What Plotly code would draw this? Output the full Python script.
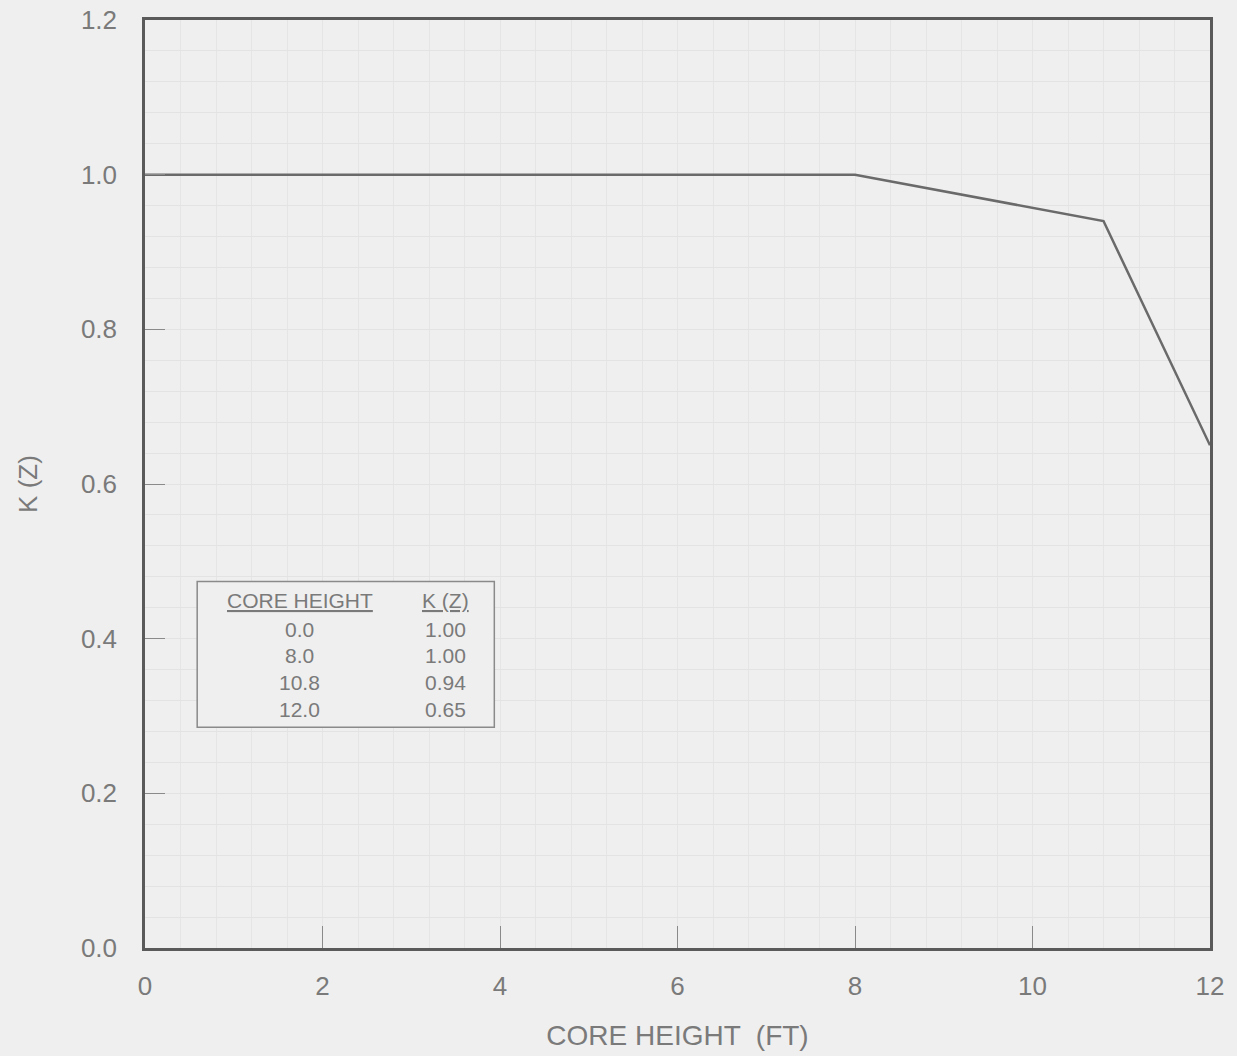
import plotly.graph_objects as go

core_height = [0.0, 8.0, 10.8, 12.0]
k_z = [1.00, 1.00, 0.94, 0.65]
x_ticks = [0, 2, 4, 6, 8, 10, 12]
y_ticks = [0.0, 0.2, 0.4, 0.6, 0.8, 1.0, 1.2]

FONT = "Liberation Sans, Arial, sans-serif"
TXT = "#7a7a7a"
AX = "#5a5a5a"

fig = go.Figure()
fig.add_trace(go.Scatter(x=core_height, y=k_z, mode="lines",
                         line=dict(color="#6a6a6a", width=2.5),
                         showlegend=False, hoverinfo="skip"))

fig.update_layout(
    width=1237, height=1056,
    margin=dict(l=145, r=27, t=20, b=108),
    paper_bgcolor="#efefef", plot_bgcolor="#efefef",
    font=dict(family=FONT, color=TXT, size=20),
)
fig.update_xaxes(range=[0, 12], tickvals=x_ticks, ticktext=[str(v) for v in x_ticks],
                 ticks="inside", ticklen=22, tickwidth=1.2, tickcolor="#8a8a8a",
                 showline=True, linecolor=AX, linewidth=2.5, mirror=True, automargin=False,
                 showgrid=False, zeroline=False, ticklabelstandoff=13,
                 minor=dict(dtick=0.4, showgrid=True, gridcolor="#e5e5e5", gridwidth=1),
                 title=dict(text="CORE HEIGHT  (FT)", font=dict(size=28, color=TXT), standoff=26),
                 tickfont=dict(size=26, color=TXT))
fig.update_yaxes(range=[0, 1.2], tickvals=y_ticks, ticktext=[f"{v:.1f}" for v in y_ticks],
                 ticks="inside", ticklen=20, tickwidth=1.2, tickcolor="#8a8a8a",
                 showline=True, linecolor=AX, linewidth=2.5, mirror=True, automargin=False,
                 showgrid=False, zeroline=False, ticklabelstandoff=20,
                 minor=dict(dtick=0.04, showgrid=True, gridcolor="#e3e3e3", gridwidth=1),
                 title=dict(text="K (Z)", font=dict(size=26, color=TXT), standoff=36),
                 tickfont=dict(size=26, color=TXT))

fig.add_shape(type="rect", xref="paper", yref="paper", x0=0.049, x1=0.328, y0=0.238, y1=0.395,
              line=dict(color="#8a8a8a", width=1.5), fillcolor="#efefef", layer="above")

col1_x = 0.1455
col2_x = 0.2817
common = dict(xref="paper", yref="paper", showarrow=False, xanchor="center", yanchor="middle",
              font=dict(size=21, color=TXT))
fig.add_annotation(x=col1_x, y=0.375, text="<u>CORE HEIGHT</u>", **common)
fig.add_annotation(x=col2_x, y=0.375, text="<u>K (Z)</u>", **common)
row_y = [0.3437, 0.3147, 0.2856, 0.2565]
for h, k, yy in zip(core_height, k_z, row_y):
    fig.add_annotation(x=col1_x, y=yy, text=f"{h:.1f}", **common)
    fig.add_annotation(x=col2_x, y=yy, text=f"{k:.2f}", **common)

fig.write_html("out.html")
